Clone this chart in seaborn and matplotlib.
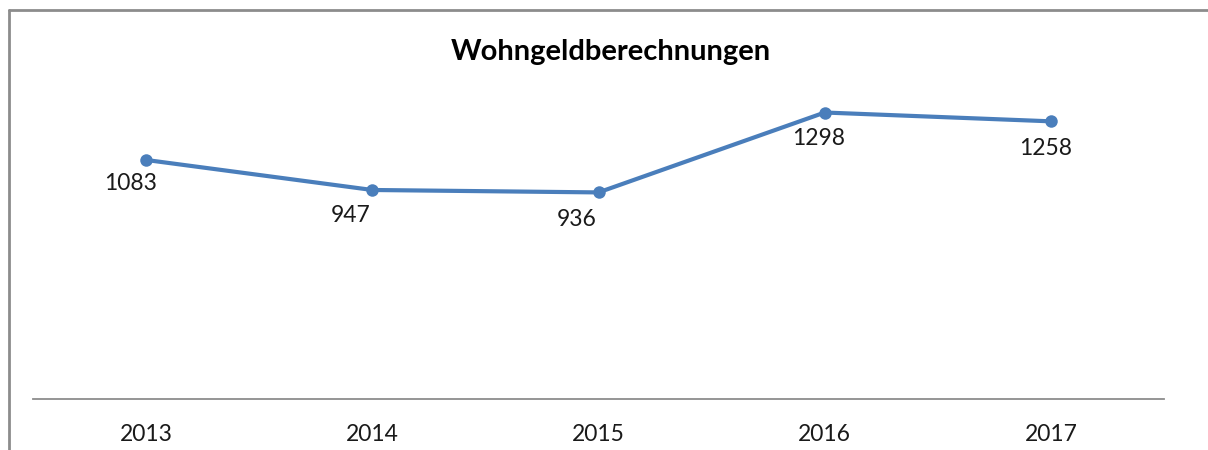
import matplotlib
matplotlib.use("Agg")
import matplotlib.pyplot as plt
import seaborn as sns
import pandas as pd
from matplotlib.lines import Line2D

years = ["2013", "2014", "2015", "2016", "2017"]
values = [1083, 947, 936, 1298, 1258]
title = "Wohngeldberechnungen"

df = pd.DataFrame({"year": years, "value": values})

sns.set_theme(style="white")
plt.rcParams["font.family"] = ["Lato", "DejaVu Sans"]

fig = plt.figure(figsize=(12.08, 4.5), dpi=100)
ax = fig.add_axes([33 / 1208, 51 / 450, 1131 / 1208, 309 / 450])

blue = "#4A7EBB"
sns.lineplot(data=df, x="year", y="value", ax=ax, color=blue, linewidth=3,
             marker="o", markersize=9, markeredgewidth=0, sort=False)

ax.set_xlim(-0.5, 4.5)
ax.set_ylim(0, 1400)
ax.set_xlabel("")
ax.set_ylabel("")
ax.set_yticks([])
for s in ["top", "right", "left"]:
    ax.spines[s].set_visible(False)
ax.spines["bottom"].set_color("#8C8C8C")
ax.spines["bottom"].set_linewidth(1.3)
ax.tick_params(axis="x", length=0, pad=18, labelsize=16.5, labelcolor="#1a1a1a")

offsets = [(-16, -24), (-22, -26), (-22, -27), (-6, -26), (-5, -27)]
for i, (v, off) in enumerate(zip(values, offsets)):
    ax.annotate(str(v), (i, v), xytext=off, textcoords="offset pixels",
                ha="center", va="center", fontsize=16.5, color="#1a1a1a")

fig.text(611 / 1208, 1 - 52 / 450, title, ha="center", va="center",
         fontsize=21, fontweight="bold", color="#000000")

# chart frame (partially visible)
fig.add_artist(Line2D([9 / 1208, 9 / 1208], [0, 1 - 10 / 450],
                      transform=fig.transFigure, color="#8C8C8C", lw=2))
fig.add_artist(Line2D([9 / 1208, 1], [1 - 10 / 450, 1 - 10 / 450],
                      transform=fig.transFigure, color="#8C8C8C", lw=2))

fig.savefig("out.png", dpi=100)
